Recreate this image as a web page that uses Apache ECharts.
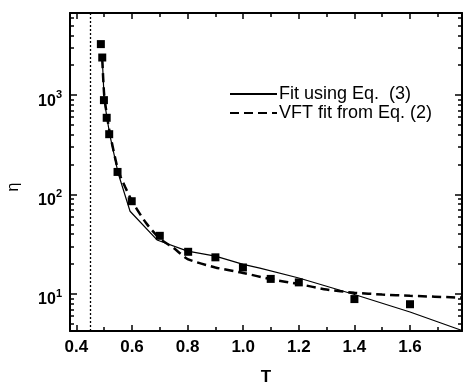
<!DOCTYPE html>
<html>
<head>
<meta charset="utf-8">
<script src="https://cdn.jsdelivr.net/npm/echarts@6/dist/echarts.min.js"></script>
<style>html,body{margin:0;padding:0;background:#fff;}#c{width:464px;height:383px;}</style>
</head>
<body>
<div id="c"></div>
<script>
// ---- data ----
const pointT   = [0.488, 0.493, 0.499, 0.509, 0.518, 0.548, 0.599, 0.700, 0.802, 0.900, 0.999, 1.099, 1.200, 1.400, 1.600];
const pointEta = [3260, 2390, 891, 592, 405, 169, 85.8, 38.5, 26.6, 23.4, 18.5, 14.2, 13.1, 8.9, 7.9];

const fitT   = [0.493, 0.500, 0.510, 0.520, 0.550, 0.593, 0.690, 0.800, 0.900, 1.000, 1.060, 1.200, 1.400, 1.600, 1.787];
const fitEta = [2390, 900, 590, 400, 165, 68, 35, 27, 24.1, 19.9, 18.2, 14.5, 9.9, 6.6, 4.3];

const vftT   = [0.493, 0.500, 0.510, 0.520, 0.550, 0.575, 0.600, 0.650, 0.700, 0.750, 0.800, 0.900, 1.000, 1.100, 1.200, 1.300, 1.400, 1.500, 1.600, 1.787];
const vftEta = [2300, 1000, 620, 420, 175, 120, 86, 52, 36, 29, 22.5, 18.5, 16.3, 14.1, 12.6, 11.1, 10.3, 9.9, 9.6, 9.2];

const T0 = 0.452;               // dotted vertical line
const xMin = 0.377, xMax = 1.787;
const yMin = 4.25, yMax = 6700;

const xMajor = [0.4, 0.6, 0.8, 1.0, 1.2, 1.4, 1.6];
const xMinor = [0.5, 0.7, 0.9, 1.1, 1.3, 1.5, 1.7];
const yMajor = [10, 100, 1000];
const yMinor = [5, 6, 7, 8, 9, 20, 30, 40, 50, 60, 70, 80, 90, 200, 300, 400, 500, 600, 700, 800, 900, 2000, 3000, 4000, 5000, 6000];

const seriesNames = ['Fit using Eq.  (3)', 'VFT fit from Eq. (2)'];

const zip = (a, b) => a.map((v, i) => [v, b[i]]);

const chart = echarts.init(document.getElementById('c'), null, {renderer: 'canvas'});
const FONT = 'Liberation Sans, Arial, sans-serif';

function xAx(pos, ticks, len, showLine, showLabel) {
  return {
    type: 'value', min: xMin, max: xMax, position: pos,
    axisLine: {show: showLine, onZero: false, lineStyle: {color: '#000', width: 2}},
    axisTick: {show: true, inside: true, length: len, customValues: ticks, lineStyle: {color: '#000', width: 1.5}},
    axisLabel: showLabel ? {show: true, customValues: ticks, formatter: v => v.toFixed(1), color: '#000', fontSize: 17, fontWeight: 'bold', fontFamily: FONT, margin: 8} : {show: false},
    splitLine: {show: false}
  };
}
function yAx(pos, ticks, len, showLine, showLabel) {
  return {
    type: 'log', logBase: 10, min: yMin, max: yMax, position: pos,
    axisLine: {show: showLine, onZero: false, lineStyle: {color: '#000', width: 2}},
    axisTick: {show: true, inside: true, length: len, customValues: ticks, lineStyle: {color: '#000', width: 1.5}},
    axisLabel: showLabel ? {
      show: true, customValues: ticks, margin: 8, padding: [8, 0, 0, 0],
      formatter: v => '{b|10}{s|' + Math.round(Math.log10(v)) + '}',
      rich: {
        b: {fontSize: 16, fontWeight: 'bold', fontFamily: FONT, color: '#000', lineHeight: 20, verticalAlign: 'bottom'},
        s: {fontSize: 11, fontWeight: 'bold', fontFamily: FONT, color: '#000', lineHeight: 20, verticalAlign: 'top'}
      }
    } : {show: false},
    splitLine: {show: false}
  };
}

const xAxes = [xAx('bottom', xMajor, 6, true, true), xAx('bottom', xMinor, 4, false, false), xAx('top', xMajor, 6, true, false), xAx('top', xMinor, 4, false, false)];
xAxes[0].name = 'T';
xAxes[0].nameLocation = 'middle';
xAxes[0].nameGap = 38;
xAxes[0].nameTextStyle = {fontSize: 17, fontWeight: 'bold', fontFamily: FONT, color: '#000'};

const yAxes = [yAx('left', yMajor, 7, true, true), yAx('left', yMinor, 4, false, false), yAx('right', yMajor, 7, true, false), yAx('right', yMinor, 4, false, false)];

chart.setOption({
  animation: false,
  backgroundColor: '#fff',
  grid: {left: 70, right: 2, top: 13, bottom: 52, containLabel: false, outerBoundsMode: 'none'},
  xAxis: xAxes,
  yAxis: yAxes,
  legend: {
    orient: 'vertical', left: 229, top: 85, padding: 0, itemWidth: 47, itemHeight: 14, itemGap: 1,
    data: seriesNames,
    textStyle: {fontSize: 18, fontFamily: FONT, color: '#000', padding: [0, 0, 0, -3]},
    itemStyle: {opacity: 0}
  },
  graphic: [{
    type: 'text', x: 14, y: 187, rotation: Math.PI / 2,
    style: {text: 'η', fontSize: 16, fontFamily: FONT, fill: '#000', align: 'center', verticalAlign: 'middle'}
  }],
  series: [
    {
      name: seriesNames[0], type: 'line', data: zip(fitT, fitEta), symbol: 'none',
      lineStyle: {color: '#000', width: 1.2}, itemStyle: {color: '#000'},
      markLine: {silent: true, symbol: 'none', label: {show: false},
        lineStyle: {color: '#000', width: 1.3, type: [2, 2]},
        data: [{xAxis: T0}]}
    },
    {
      name: seriesNames[1], type: 'line', data: zip(vftT, vftEta), symbol: 'none', smooth: 0.2,
      lineStyle: {color: '#000', width: 2.5, type: [9, 5]}, itemStyle: {color: '#000'}
    },
    {
      name: 'data', type: 'scatter', data: zip(pointT, pointEta), symbol: 'rect', symbolSize: 8,
      itemStyle: {color: '#000', opacity: 1}, z: 5
    }
  ]
});
</script>
</body>
</html>
